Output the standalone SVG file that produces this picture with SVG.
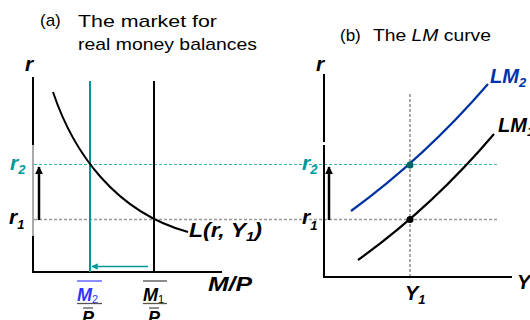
<svg xmlns="http://www.w3.org/2000/svg" width="530" height="320" viewBox="0 0 530 320">
<defs>
<style>
.t{font-family:"Liberation Sans",Arial,sans-serif;font-size:17px;fill:#000}
.bi{font-family:"Liberation Sans",Arial,sans-serif;font-weight:bold;font-style:italic;font-size:20px;fill:#000}
.sub{font-size:13px}
.ax{stroke:#000;stroke-width:2;fill:none}
.teal{fill:#009999}
.blue{fill:#0033aa}
.dash1{stroke:#999;stroke-width:1.3;stroke-dasharray:3 2;fill:none}
.dash2{stroke:#33b3b3;stroke-width:1.1;stroke-dasharray:3 2;fill:none}
.dash3{stroke:#555;stroke-width:1;stroke-dasharray:3 2;fill:none}
</style>
<marker id="ah" viewBox="0 0 10 10" refX="9" refY="5" markerWidth="3.4" markerHeight="3.2" orient="auto" markerUnits="strokeWidth"><path d="M0,0L10,5L0,10z" fill="#000"/></marker>
<marker id="aht" viewBox="0 0 10 10" refX="9" refY="5" markerWidth="4.5" markerHeight="4" orient="auto" markerUnits="strokeWidth"><path d="M0,0L10,5L0,10z" fill="#009999"/></marker>
</defs>
<rect width="530" height="320" fill="#fff"/>

<g id="titles">
<text class="t" x="40" y="26">(a)</text>
<text class="t" x="78" y="27" textLength="139" lengthAdjust="spacingAndGlyphs">The market for</text>
<text class="t" x="78" y="50" textLength="179" lengthAdjust="spacingAndGlyphs">real money balances</text>
<text class="t" x="340" y="41">(b)</text>
<text class="t" x="373" y="41" textLength="118" lengthAdjust="spacingAndGlyphs">The <tspan font-style="italic">LM</tspan> curve</text>
</g>

<g id="guides">
<line class="dash2" x1="34" y1="164.5" x2="497" y2="164.5"/>
<line class="dash1" x1="34" y1="219.5" x2="497" y2="219.5"/>
<line class="dash3" x1="410" y1="94" x2="410" y2="277"/>
</g>

<g id="panel-a-axes">
<line class="ax" x1="33" y1="77" x2="33" y2="145"/>
<line x1="33" y1="145" x2="33" y2="236" stroke="#aaa" stroke-width="2"/>
<line class="ax" x1="33" y1="236" x2="33" y2="273"/>
<line class="ax" x1="32" y1="272" x2="222" y2="272"/>
<text class="bi" x="25" y="71" style="font-size:21px">r</text>
<text class="bi" x="208" y="291" textLength="44" lengthAdjust="spacingAndGlyphs">M/P</text>
</g>

<g id="supply-2">
<line x1="90" y1="81" x2="90" y2="272" stroke="#009999" stroke-width="2"/>
</g>
<g id="supply-1">
<line x1="154" y1="81" x2="154" y2="272" stroke="#000" stroke-width="2"/>
</g>

<g id="demand">
<path d="M53,92 C73,152 115,212 188,232" fill="none" stroke="#000" stroke-width="2"/>
<text class="bi" x="189" y="237" textLength="73" lengthAdjust="spacingAndGlyphs">L(r, Y<tspan class="sub" dy="4">1</tspan><tspan dy="-4">)</tspan></text>
</g>

<g id="connectors">
<line x1="148" y1="266.5" x2="92" y2="266.5" stroke="#009999" stroke-width="1.6" marker-end="url(#aht)"/>
<line x1="39" y1="220" x2="39" y2="167" stroke="#000" stroke-width="2.5" marker-end="url(#ah)"/>
<line x1="329" y1="220" x2="329" y2="167" stroke="#000" stroke-width="2.5" marker-end="url(#ah)"/>
</g>

<g id="r-labels-a">
<text class="bi teal" x="10" y="170" style="font-size:21px">r<tspan class="sub" dy="4">2</tspan></text>
<text class="bi" x="9" y="224" style="font-size:21px">r<tspan class="sub" dy="5">1</tspan></text>
</g>

<g id="tick-labels-a">
<line x1="77" y1="281" x2="102" y2="281" stroke="#6666ff" stroke-width="1.5"/>
<text class="bi" x="77" y="301" style="fill:#3333ff;font-size:18px">M<tspan style="font-size:11px;font-weight:normal;font-style:normal" dy="2">2</tspan></text>
<line x1="77" y1="303.5" x2="102" y2="303.5" stroke="#555" stroke-width="1.3"/>
<line x1="83" y1="308" x2="93" y2="308" stroke="#555" stroke-width="1.3"/>
<text class="bi" x="82" y="324" style="font-size:18px">P</text>
<line x1="143" y1="281" x2="167" y2="281" stroke="#666" stroke-width="1.5"/>
<text class="bi" x="143" y="301" style="font-size:18px">M<tspan style="font-size:11px;font-weight:normal;font-style:normal" dy="2">1</tspan></text>
<line x1="143" y1="303.5" x2="167" y2="303.5" stroke="#555" stroke-width="1.3"/>
<line x1="149" y1="308" x2="159" y2="308" stroke="#555" stroke-width="1.3"/>
<text class="bi" x="148" y="324" style="font-size:18px">P</text>
</g>

<g id="panel-b-axes">
<line class="ax" x1="324" y1="74" x2="324" y2="142"/>
<line class="ax" x1="324" y1="145" x2="324" y2="278"/>
<line class="ax" x1="323" y1="277" x2="512" y2="277"/>
<text class="bi" x="316" y="71" style="font-size:21px">r</text>
<text class="bi" x="517" y="289">Y</text>
<text class="bi" x="405" y="300">Y<tspan class="sub" dy="4">1</tspan></text>
<text class="bi teal" x="302" y="170" style="font-size:21px">r<tspan class="sub" dy="4">2</tspan></text>
<text class="bi" x="302" y="224" style="font-size:21px">r<tspan class="sub" dy="6">1</tspan></text>
</g>

<g id="LM2">
<path d="M351,211 Q425,157 488,84" fill="none" stroke="#0033a0" stroke-width="2.2"/>
<text class="bi blue" x="490" y="83">LM<tspan class="sub" dy="4">2</tspan></text>
</g>
<g id="LM1">
<path d="M358,260 Q432,207 494,134" fill="none" stroke="#000" stroke-width="2.2"/>
<text class="bi" x="498" y="132">LM<tspan class="sub" dy="4">1</tspan></text>
</g>
<g id="points">
<circle cx="410" cy="165" r="3.5" fill="#006666"/>
<circle cx="410" cy="219.5" r="3.5" fill="#000"/>
</g>
</svg>
